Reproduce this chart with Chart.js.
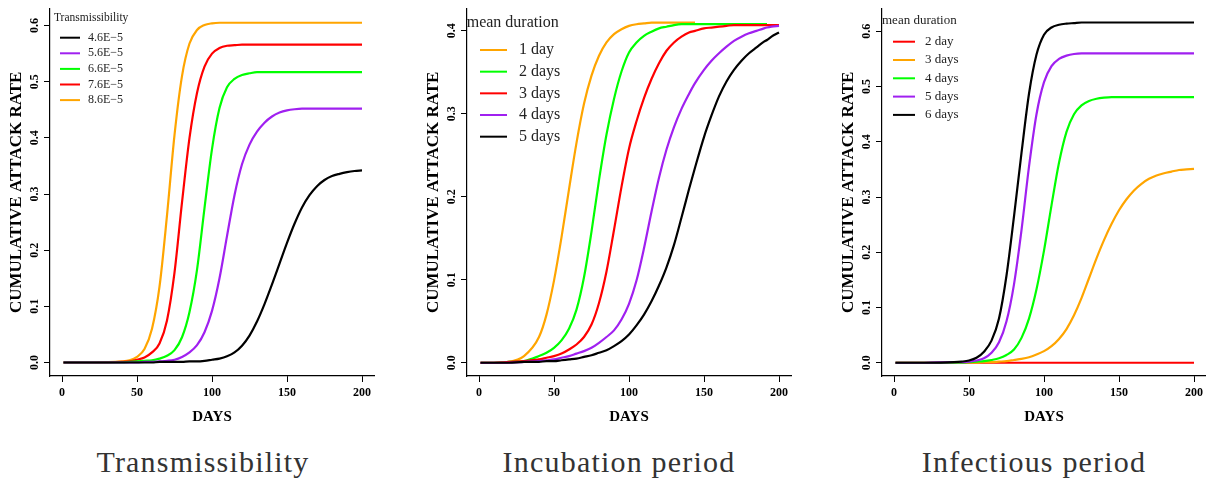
<!DOCTYPE html>
<html>
<head>
<meta charset="utf-8">
<script src="https://cdn.jsdelivr.net/npm/chart.js@4.4.1/dist/chart.umd.min.js"></script>
<style>
  body { margin: 0; background: #fff; }
  #wrap { position: relative; width: 1206px; height: 485px; overflow: hidden; background: #fff; }
  .panel { position: absolute; top: 0; width: 375px; height: 430px; }
  .caption {
    position: absolute; top: 444px; width: 300px; text-align: center;
    font: 30px "Liberation Serif", serif; line-height: 36px; letter-spacing: 1.2px; color: #333;
  }
</style>
</head>
<body>
<div id="wrap">
  <div class="panel" style="left:0px"><canvas id="chart-tr"></canvas></div>
  <div class="panel" style="left:417px"><canvas id="chart-inc"></canvas></div>
  <div class="panel" style="left:832px"><canvas id="chart-inf"></canvas></div>
  <div class="caption" style="left:53px">Transmissibility</div>
  <div class="caption" style="left:469px">Incubation period</div>
  <div class="caption" style="left:884px">Infectious period</div>
</div>
<script>
const SERIF = '"Liberation Serif", serif';
const COLORS = { black: '#000000', purple: '#a020f0', green: '#00ff00', red: '#ff0000', orange: '#ffa500' };

const X_TICKS = [0, 50, 100, 150, 200];
const Y_TICKS_06 = [0, 0.1, 0.2, 0.3, 0.4, 0.5, 0.6];
const Y_TICKS_04 = [0, 0.1, 0.2, 0.3, 0.4];

// ─── Transmissibility ─────────────────────────────────────────────────────────

const TR_DAYS = [1, 20, 40, 45, 50, 55, 60, 65, 70, 75, 80, 85, 90, 95, 100, 105, 110, 115, 120, 125,
  130, 135, 140, 145, 150, 155, 160, 165, 170, 175, 180, 185, 190, 195, 200];
const TR_46 = [0, 0, 0, 0, 0, 0, 0, 0.001, 0.001, 0.001, 0.001, 0.002, 0.002, 0.003, 0.005, 0.007, 0.011, 0.018, 0.03, 0.048,
  0.073, 0.104, 0.139, 0.176, 0.213, 0.247, 0.276, 0.298, 0.314, 0.325, 0.332, 0.336, 0.339, 0.341, 0.342];
const TR_56 = [0, 0, 0, 0, 0, 0.001, 0.001, 0.002, 0.003, 0.005, 0.01, 0.018, 0.031, 0.054, 0.092, 0.15, 0.225, 0.298, 0.353, 0.388,
  0.411, 0.427, 0.438, 0.445, 0.449, 0.451, 0.452, 0.452, 0.452, 0.452, 0.452, 0.452, 0.452, 0.452, 0.452];
const TR_66 = [0, 0, 0, 0.001, 0.002, 0.003, 0.004, 0.007, 0.012, 0.022, 0.045, 0.09, 0.165, 0.275, 0.38, 0.453, 0.49, 0.505, 0.512, 0.515,
  0.517, 0.517, 0.517, 0.517, 0.517, 0.517, 0.517, 0.517, 0.517, 0.517, 0.517, 0.517, 0.517, 0.517, 0.517];
const TR_76 = [0, 0, 0.001, 0.002, 0.005, 0.009, 0.018, 0.034, 0.075, 0.16, 0.285, 0.4, 0.48, 0.527, 0.55, 0.56, 0.564, 0.565, 0.566, 0.566,
  0.566, 0.566, 0.566, 0.566, 0.566, 0.566, 0.566, 0.566, 0.566, 0.566, 0.566, 0.566, 0.566, 0.566, 0.566];
const TR_86 = [0, 0, 0.002, 0.004, 0.01, 0.024, 0.06, 0.135, 0.262, 0.405, 0.51, 0.568, 0.592, 0.601, 0.604, 0.605, 0.605, 0.605, 0.605, 0.605,
  0.605, 0.605, 0.605, 0.605, 0.605, 0.605, 0.605, 0.605, 0.605, 0.605, 0.605, 0.605, 0.605, 0.605, 0.605];
const TR_LABELS = ['4.6E\u22125', '5.6E\u22125', '6.6E\u22125', '7.6E\u22125', '8.6E\u22125'];

// ─── Incubation period ────────────────────────────────────────────────────────

const INC_DAYS = [1, 10, 20, 30, 40, 45, 50, 55, 60, 65, 70, 75, 80, 85, 90, 95, 100, 105, 110, 115,
  120, 125, 130, 135, 140, 144, 150, 155, 160, 165, 170, 175, 180, 185, 190, 192, 195, 200];
const INC_1 = [0, 0, 0.001, 0.008, 0.031, 0.058, 0.099, 0.151, 0.209, 0.265, 0.312, 0.346, 0.37, 0.386, 0.396, 0.402, 0.406, 0.408, 0.409, 0.41,
  0.41, 0.41, 0.41, 0.41, 0.41, 0.41, null, null, null, null, null, null, null, null, null, null, null, null];
const INC_2 = [0, 0, 0.001, 0.002, 0.008, 0.012, 0.018, 0.027, 0.041, 0.064, 0.103, 0.158, 0.22, 0.275, 0.318, 0.351, 0.374, 0.386, 0.394, 0.399,
  0.403, 0.405, 0.407, 0.408, 0.408, 0.408, 0.408, 0.408, 0.408, 0.408, 0.408, 0.408, 0.408, 0.408, 0.408, 0.408, null, null];
const INC_3 = [0, 0, 0.001, 0.002, 0.004, 0.006, 0.008, 0.011, 0.016, 0.022, 0.031, 0.046, 0.072, 0.11, 0.16, 0.212, 0.258, 0.291, 0.319, 0.342,
  0.361, 0.376, 0.386, 0.393, 0.398, 0.4, 0.403, 0.404, 0.405, 0.406, 0.407, 0.407, 0.407, 0.407, 0.407, 0.407, 0.407, 0.407];
const INC_4 = [0, 0, 0, 0.001, 0.002, 0.003, 0.004, 0.006, 0.008, 0.011, 0.014, 0.018, 0.024, 0.031, 0.039, 0.052, 0.071, 0.099, 0.138, 0.182,
  0.223, 0.257, 0.284, 0.306, 0.324, 0.337, 0.353, 0.364, 0.373, 0.381, 0.388, 0.393, 0.397, 0.4, 0.403, 0.404, 0.405, 0.406];
const INC_5 = [0, 0, 0, 0.001, 0.001, 0.002, 0.002, 0.003, 0.004, 0.005, 0.007, 0.009, 0.012, 0.015, 0.02, 0.026, 0.034, 0.045, 0.058, 0.074,
  0.093, 0.115, 0.142, 0.175, 0.209, 0.235, 0.272, 0.298, 0.321, 0.339, 0.353, 0.364, 0.373, 0.38, 0.387, 0.389, 0.393, 0.398];
const INC_LABELS = ['1 day', '2 days', '3 days', '4 days', '5 days'];

// ─── Infectious period ────────────────────────────────────────────────────────

const INF_DAYS = TR_DAYS;
const INF_2 = [0, 0, 0, 0, 0, 0, 0, 0, 0, 0, 0, 0, 0, 0, 0, 0, 0, 0, 0, 0,
  0, 0, 0, 0, 0, 0, 0, 0, 0, 0, 0, 0, 0, 0, 0];
const INF_3 = [0, 0, 0, 0, 0, 0, 0.001, 0.001, 0.002, 0.003, 0.005, 0.007, 0.01, 0.015, 0.021, 0.03, 0.043, 0.061, 0.086, 0.117,
  0.153, 0.189, 0.222, 0.251, 0.276, 0.296, 0.312, 0.324, 0.333, 0.339, 0.343, 0.346, 0.349, 0.35, 0.351];
const INF_4 = [0, 0, 0, 0, 0.001, 0.002, 0.003, 0.005, 0.008, 0.014, 0.024, 0.045, 0.08, 0.133, 0.203, 0.285, 0.362, 0.418, 0.45, 0.466,
  0.474, 0.478, 0.48, 0.481, 0.481, 0.481, 0.481, 0.481, 0.481, 0.481, 0.481, 0.481, 0.481, 0.481, 0.481];
const INF_5 = [0, 0, 0.001, 0.001, 0.002, 0.004, 0.008, 0.018, 0.037, 0.075, 0.142, 0.24, 0.355, 0.45, 0.508, 0.537, 0.55, 0.556, 0.559, 0.56,
  0.56, 0.56, 0.56, 0.56, 0.56, 0.56, 0.56, 0.56, 0.56, 0.56, 0.56, 0.56, 0.56, 0.56, 0.56];
const INF_6 = [0, 0, 0.001, 0.002, 0.004, 0.009, 0.02, 0.04, 0.08, 0.158, 0.265, 0.38, 0.487, 0.558, 0.594, 0.607, 0.612, 0.614, 0.615, 0.616,
  0.616, 0.616, 0.616, 0.616, 0.616, 0.616, 0.616, 0.616, 0.616, 0.616, 0.616, 0.616, 0.616, 0.616, 0.616];
const INF_LABELS = ['2 day', '3 days', '4 days', '5 days', '6 days'];

// ─── Helpers ──────────────────────────────────────────────────────────────────

const toPoints = (days, values) => days.map((d, i) => ({ x: d, y: values[i] }));

const lineDataset = (days, values, color) => ({
  data: toPoints(days, values),
  borderColor: color,
  borderWidth: 2.2,
  pointRadius: 0,
  cubicInterpolationMode: 'monotone',
  fill: false,
});

// R-style legend drawn inside the plot, top left
const makeLegend = (cfg) => ({
  id: 'innerLegend',
  afterDatasetsDraw(chart) {
    const { ctx } = chart;
    ctx.save();
    ctx.textBaseline = 'middle';
    ctx.textAlign = 'left';
    ctx.fillStyle = '#222';
    ctx.font = `${cfg.titleSize}px ${SERIF}`;
    ctx.fillText(cfg.title, cfg.titleX, cfg.titleY);
    ctx.font = `${cfg.size}px ${SERIF}`;
    cfg.labels.forEach((label, i) => {
      const y = cfg.rowY + i * cfg.rowStep;
      ctx.strokeStyle = cfg.colors[i];
      ctx.lineWidth = 2;
      ctx.beginPath();
      ctx.moveTo(cfg.lineX1, y);
      ctx.lineTo(cfg.lineX2, y);
      ctx.stroke();
      ctx.fillText(label, cfg.textX, y);
    });
    ctx.restore();
  },
});

const axisGrid = { drawOnChartArea: false, drawTicks: true, tickLength: 6, color: '#000', lineWidth: 1 };
const axisBorder = { color: '#000', width: 1.2 };

const buildConfig = (datasets, yMin, yMax, yTicks, legend) => ({
  type: 'line',
  data: { datasets },
  options: {
    responsive: true,
    maintainAspectRatio: false,
    animation: false,
    layout: { padding: { top: 6, right: 0, left: 0, bottom: 0 } },
    plugins: { legend: { display: false }, tooltip: { enabled: false } },
    scales: {
      x: {
        type: 'linear',
        min: -8,
        max: 208,
        afterBuildTicks: (s) => { s.ticks = X_TICKS.map((v) => ({ value: v })); },
        afterFit: (s) => { s.height = 54; },
        ticks: {
          autoSkip: false, maxRotation: 0, padding: 4, color: '#000',
          font: { family: SERIF, size: 12, weight: 'bold' },
        },
        grid: axisGrid,
        border: axisBorder,
        title: {
          display: true, text: 'DAYS', color: '#000',
          font: { family: SERIF, size: 15, weight: 'bold' },
          padding: { top: 0, bottom: 4 },
        },
      },
      y: {
        type: 'linear',
        min: yMin,
        max: yMax,
        afterBuildTicks: (s) => { s.ticks = yTicks.map((v) => ({ value: v })); },
        afterFit: (s) => { s.width = 50; },
        ticks: {
          minRotation: 90, maxRotation: 90, crossAlign: 'center', padding: 1.5, color: '#000',
          font: { family: SERIF, size: 12, weight: 'bold' },
          callback: (v) => Number(v).toFixed(1),
        },
        grid: axisGrid,
        border: axisBorder,
        title: {
          display: true, text: 'CUMULATIVE ATTACK RATE', color: '#000',
          font: { family: SERIF, size: 17, weight: 'bold' },
          padding: { top: 6.5, bottom: 0 },
        },
      },
    },
  },
  plugins: [makeLegend(legend)],
});

// ─── Charts ───────────────────────────────────────────────────────────────────

new Chart(document.getElementById('chart-tr'), buildConfig(
  [
    lineDataset(TR_DAYS, TR_46, COLORS.black),
    lineDataset(TR_DAYS, TR_56, COLORS.purple),
    lineDataset(TR_DAYS, TR_66, COLORS.green),
    lineDataset(TR_DAYS, TR_76, COLORS.red),
    lineDataset(TR_DAYS, TR_86, COLORS.orange),
  ],
  -0.024, 0.63, Y_TICKS_06,
  {
    title: 'Transmissibility', titleSize: 11.5, titleX: 54, titleY: 18,
    labels: TR_LABELS,
    colors: [COLORS.black, COLORS.purple, COLORS.green, COLORS.red, COLORS.orange],
    size: 12, rowY: 37.7, rowStep: 15.6, lineX1: 60, lineX2: 80, textX: 88,
  },
));

new Chart(document.getElementById('chart-inc'), buildConfig(
  [
    lineDataset(INC_DAYS, INC_5, COLORS.black),
    lineDataset(INC_DAYS, INC_4, COLORS.purple),
    lineDataset(INC_DAYS, INC_3, COLORS.red),
    lineDataset(INC_DAYS, INC_2, COLORS.green),
    lineDataset(INC_DAYS, INC_1, COLORS.orange),
  ],
  -0.016, 0.4267, Y_TICKS_04,
  {
    title: 'mean duration', titleSize: 16, titleX: 49.7, titleY: 23,
    labels: INC_LABELS,
    colors: [COLORS.orange, COLORS.green, COLORS.red, COLORS.purple, COLORS.black],
    size: 16, rowY: 50, rowStep: 21.67, lineX1: 63, lineX2: 90, textX: 102,
  },
));

new Chart(document.getElementById('chart-inf'), buildConfig(
  [
    lineDataset(INF_DAYS, INF_6, COLORS.black),
    lineDataset(INF_DAYS, INF_5, COLORS.purple),
    lineDataset(INF_DAYS, INF_4, COLORS.green),
    lineDataset(INF_DAYS, INF_3, COLORS.orange),
    lineDataset(INF_DAYS, INF_2, COLORS.red),
  ],
  -0.024, 0.641, Y_TICKS_06,
  {
    title: 'mean duration', titleSize: 13, titleX: 50, titleY: 21,
    labels: INF_LABELS,
    colors: [COLORS.red, COLORS.orange, COLORS.green, COLORS.purple, COLORS.black],
    size: 13, rowY: 41.7, rowStep: 18.3, lineX1: 61, lineX2: 83, textX: 93,
  },
));
</script>
</body>
</html>
